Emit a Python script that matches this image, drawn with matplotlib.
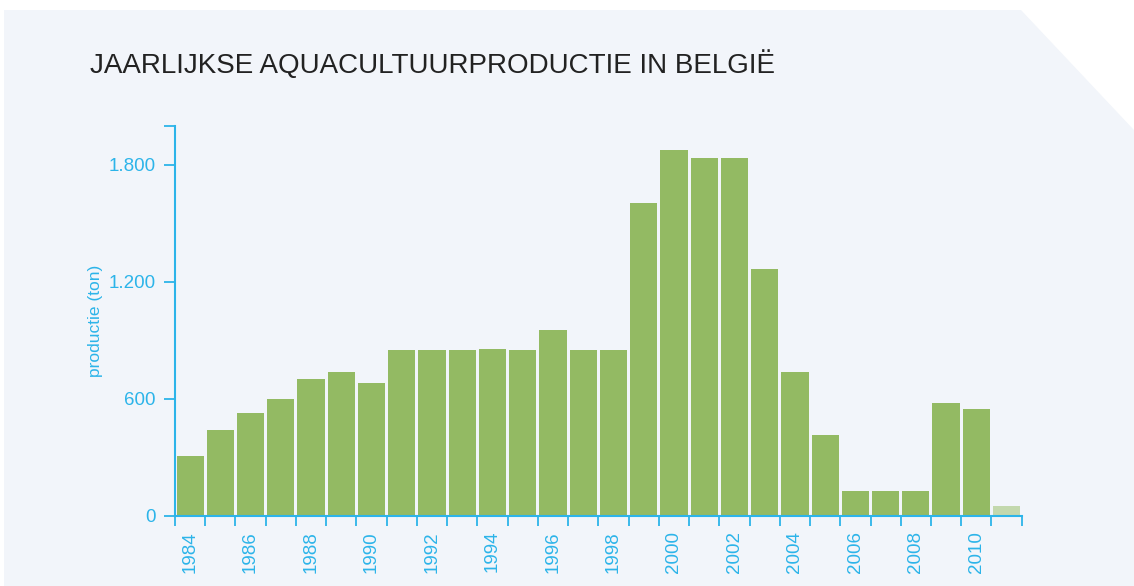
import matplotlib.pyplot as plt
from matplotlib.patches import Polygon

years = list(range(1984, 2012))
production = [306, 440, 527, 599, 702, 738, 681, 850, 850, 850, 856, 850, 953, 850,
              850, 1605, 1877, 1836, 1836, 1266, 738, 414, 127, 127, 127, 578, 548, 50]
ytick_values = [0, 600, 1200, 1800]
ytick_labels = ['0', '600', '1.200', '1.800']

cyan = '#2cb4e9'
green = '#93ba63'
light_green = '#c3d8ad'
panel = '#f2f5fa'

plt.rcParams['font.family'] = ['Liberation Sans', 'DejaVu Sans']

fig = plt.figure(figsize=(11.34, 5.86), dpi=100)
W, H = 1134, 586
# background panel with cut corner
pts = [(4, 10), (1021, 10), (1134, 130), (1134, 587), (4, 587)]
fig.patches.append(Polygon([(x / W, 1 - y / H) for x, y in pts], closed=True,
                           transform=fig.transFigure, facecolor=panel,
                           edgecolor='none', zorder=-1))

fig.text(90 / W, 1 - 65 / H, 'JAARLIJKSE AQUACULTUURPRODUCTIE IN BELGIË',
         fontsize=20, color='#222222', va='center', ha='left')

ax = fig.add_axes([175 / W, 1 - 515.7 / H, 846.7 / W, 390 / H])
ax.patch.set_alpha(0)

x = list(range(len(years)))
colors = [green] * (len(years) - 1) + [light_green]
ax.bar(x, production, width=0.9, color=colors, zorder=2)

ax.set_xlim(-0.5, len(years) - 0.5)
ax.set_ylim(0, 2000)

for s in ['top', 'right']:
    ax.spines[s].set_visible(False)
for s in ['left', 'bottom']:
    ax.spines[s].set_color(cyan)
    ax.spines[s].set_linewidth(1.5)
ax.spines['bottom'].set_zorder(3)

ax.set_yticks(ytick_values + [2000], ytick_labels + [''])
ax.tick_params(axis='y', colors=cyan, labelcolor=cyan, length=8, width=1.3,
               labelsize=13.5, pad=6)

# tick marks at the bar edges, labels under every other bar
ax.set_xticks([i - 0.5 for i in range(len(years) + 1)], [''] * (len(years) + 1))
ax.set_xticks(x[::2], [str(y) for y in years[::2]], minor=True)
ax.tick_params(axis='x', which='major', colors=cyan, length=7, width=1.3)
ax.tick_params(axis='x', which='minor', length=0, labelcolor=cyan,
               labelsize=13.5, labelrotation=90, pad=11)

ax.set_ylabel('productie (ton)', color=cyan, fontsize=12.5, labelpad=4)

fig.savefig('out.png', dpi=100)
